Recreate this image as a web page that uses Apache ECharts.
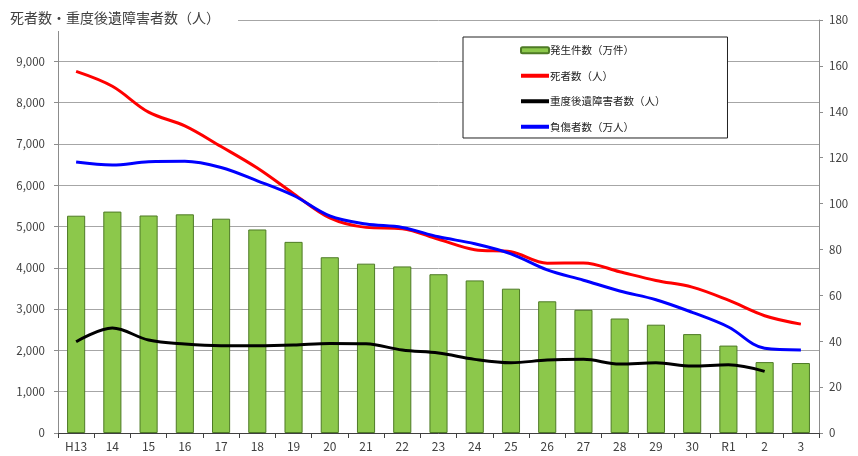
<!DOCTYPE html>
<html>
<head>
<meta charset="utf-8">
<script src="https://cdn.jsdelivr.net/npm/echarts@6/dist/echarts.min.js"></script>
<style>
html,body{margin:0;padding:0;background:#fff;}
#chart{width:858px;height:456px;}
</style>
</head>
<body>
<div id="chart"></div>
<script>
const categories = ['H13','14','15','16','17','18','19','20','21','22','23','24','25','26','27','28','29','30','R1','2','3'];
const accidents = [94.7, 96.5, 94.8, 95.3, 93.4, 88.7, 83.3, 76.6, 73.8, 72.6, 69.2, 66.5, 62.9, 57.4, 53.7, 49.9, 47.2, 43.1, 38.1, 30.9, 30.5];
const deaths = [8757, 8396, 7768, 7436, 6937, 6415, 5796, 5209, 4979, 4948, 4691, 4438, 4388, 4113, 4117, 3904, 3694, 3532, 3215, 2839, 2636];
const severe = [2210, 2541, 2250, 2153, 2112, 2112, 2129, 2170, 2160, 2008, 1935, 1783, 1700, 1766, 1783, 1670, 1700, 1621, 1652, 1493, null];
const injured = [118.1, 116.8, 118.2, 118.4, 115.7, 109.9, 103.5, 94.6, 91.1, 89.6, 85.5, 82.5, 78.1, 71.1, 66.6, 61.9, 58.1, 52.6, 46.2, 36.9, 36.2];
const leftTicks = [0, 1000, 2000, 3000, 4000, 5000, 6000, 7000, 8000, 9000, 10000];
const rightTicks = [0, 20, 40, 60, 80, 100, 120, 140, 160, 180];

const FONT = '"Noto Sans CJK JP", "Noto Sans", sans-serif';
const LINE_ICON = 'path://M0,0H28V4H0Z';
const chart = echarts.init(document.getElementById('chart'));
chart.setOption({
  animation: false,
  backgroundColor: '#fff',
  textStyle: { fontFamily: FONT },
  title: {
    text: '死者数・重度後遺障害者数（人）',
    left: 6, top: 9,
    padding: [2, 18, 6, 4],
    backgroundColor: '#fff',
    z: 10,
    textStyle: { fontSize: 14, fontWeight: 'normal', color: '#404040', fontFamily: FONT }
  },
  legend: {
    orient: 'vertical',
    left: 463, top: 37,
    padding: [8, 62, 6, 57],
    itemGap: 15,
    itemWidth: 28, itemHeight: 6,
    borderColor: '#222', borderWidth: 1,
    backgroundColor: '#fff',
    textStyle: { fontSize: 10.5, color: '#222', fontFamily: FONT, padding: [0,0,0,-4] },
    data: [
      { name: '発生件数（万件）' },
      { name: '死者数（人）', icon: LINE_ICON, itemStyle: { color: '#ff0000' } },
      { name: '重度後遺障害者数（人）', icon: LINE_ICON, itemStyle: { color: '#000000' } },
      { name: '負傷者数（万人）', icon: LINE_ICON, itemStyle: { color: '#0000ff' } }
    ]
  },
  grid: { left: 58, right: 39, top: 20, bottom: 23, containLabel: false },
  xAxis: {
    type: 'category',
    data: categories,
    axisLine: { lineStyle: { color: '#404040', width: 1 } },
    axisTick: { show: true, interval: 0, length: 5, lineStyle: { color: '#404040' } },
    axisLabel: { fontSize: 12, color: '#404040', margin: 7, interval: 0 }
  },
  yAxis: [
    {
      type: 'value', min: 0, max: 10000, interval: 1000,
      axisLine: { show: true, lineStyle: { color: '#8c8c8c' } },
      axisTick: { show: true, length: 4, lineStyle: { color: '#8c8c8c' } },
      axisLabel: {
        fontSize: 11.5, color: '#404040', margin: 13,
        formatter: v => v >= 10000 ? '' : v.toLocaleString('en-US')
      },
      splitLine: { show: true, lineStyle: { color: '#a6a6a6', width: 1 } }
    },
    {
      type: 'value', min: 0, max: 180, interval: 20,
      axisLine: { show: true, lineStyle: { color: '#8c8c8c' } },
      axisTick: { show: true, length: 4, lineStyle: { color: '#8c8c8c' } },
      axisLabel: { fontSize: 11.5, color: '#404040', margin: 10 },
      splitLine: { show: false }
    }
  ],
  series: [
    {
      name: '発生件数（万件）', type: 'bar', yAxisIndex: 1, data: accidents,
      barWidth: '50%',
      itemStyle: { color: '#8cc84b', borderColor: '#4e7a26', borderWidth: 1 }
    },
    {
      name: '死者数（人）', type: 'line', yAxisIndex: 0, data: deaths,
      smooth: 0.35, symbol: 'none',
      lineStyle: { color: '#ff0000', width: 3 }, itemStyle: { color: '#ff0000' }
    },
    {
      name: '重度後遺障害者数（人）', type: 'line', yAxisIndex: 0, data: severe,
      smooth: 0.35, symbol: 'none',
      lineStyle: { color: '#000000', width: 3 }, itemStyle: { color: '#000000' }
    },
    {
      name: '負傷者数（万人）', type: 'line', yAxisIndex: 1, data: injured,
      smooth: 0.35, symbol: 'none',
      lineStyle: { color: '#0000ff', width: 3 }, itemStyle: { color: '#0000ff' }
    }
  ]
});
</script>
</body>
</html>
